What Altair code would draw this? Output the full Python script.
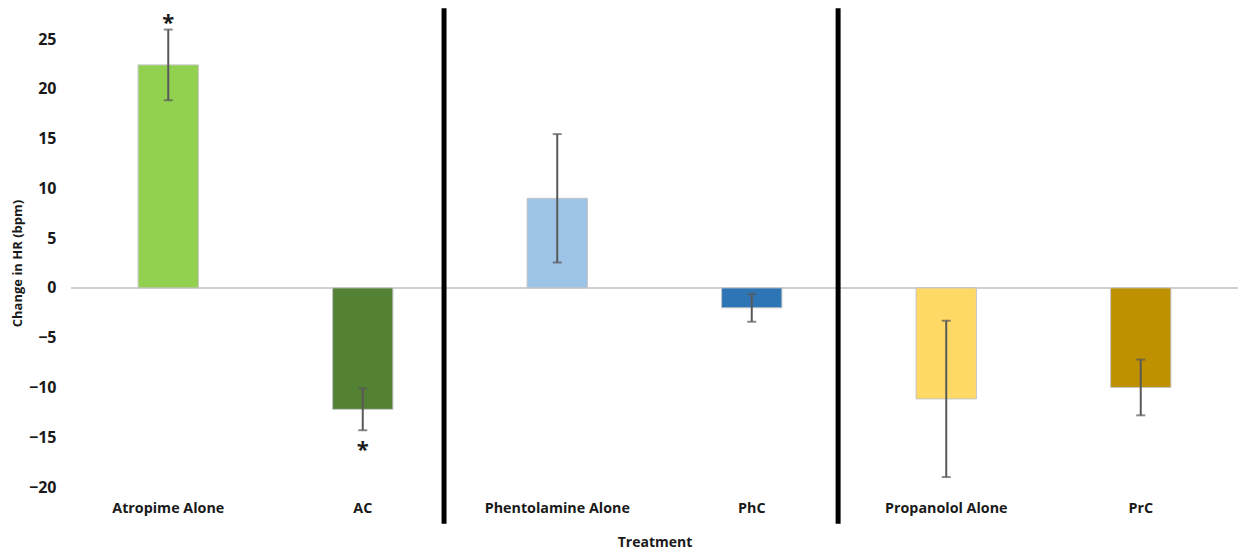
import altair as alt
import pandas as pd

treatments = ["Atropime Alone", "AC", "Phentolamine Alone", "PhC", "Propanolol Alone", "PrC"]
means = [22.4, -12.2, 9.0, -2.0, -11.15, -10.0]
errors = [3.55, 2.1, 6.45, 1.4, 7.85, 2.8]
colors = ["#92D050", "#548235", "#9DC3E6", "#2E75B6", "#FFD966", "#BF9000"]

star_labels = ["Atropime Alone", "AC"]
star_values = [27.1, -15.75]

sep_positions = [1.918, 3.944]   # in category-step units
sep_top = 28.1
sep_bottom = -23.7

df = pd.DataFrame({
    "Treatment": treatments,
    "mean": means,
    "lo": [m - e for m, e in zip(means, errors)],
    "hi": [m + e for m, e in zip(means, errors)],
    "color": colors,
})
stars = pd.DataFrame({"Treatment": star_labels, "y": star_values, "t": ["*", "*"]})
seps = pd.DataFrame({"pos": sep_positions, "top": [sep_top] * 2, "bot": [sep_bottom] * 2})

FONT = "Open Sans"
TXT = "#1a1a1a"
W, H = 1167, 448

xscale = alt.Scale(domain=treatments, paddingInner=0.69, paddingOuter=0.345)
yscale = alt.Scale(domain=[-20, 25], nice=False, zero=False)

x_enc = alt.X("Treatment:N", scale=xscale, sort=treatments,
              axis=alt.Axis(title="Treatment", labelAngle=0, domain=False, ticks=False,
                            labelPadding=14, titlePadding=20, labelFontSize=14.3,
                            labelFontWeight="bold", titleFontSize=14, titleFontWeight="bold",
                            labelColor=TXT, titleColor=TXT, labelFont=FONT, titleFont=FONT))
y_axis = alt.Axis(title="Change in HR (bpm)", values=list(range(-20, 30, 5)), domain=False,
                  ticks=False, grid=False, labelPadding=15, titlePadding=4, labelFontSize=16,
                  labelFontWeight="bold", titleFontSize=13, titleFontWeight="bold",
                  labelColor=TXT, titleColor=TXT, labelFont=FONT, titleFont=FONT)

base = alt.Chart(df)

zero = alt.Chart(pd.DataFrame({"z": [0]})).mark_rule(color="#d0d0d0", strokeWidth=2).encode(
    y=alt.Y("z:Q", scale=yscale, axis=y_axis)
)

bars = base.mark_bar(stroke="#c4c4c4", strokeWidth=1).encode(
    x=x_enc,
    y=alt.Y("mean:Q", scale=yscale, axis=y_axis),
    color=alt.Color("color:N", scale=None),
)

err = base.mark_rule(color="#595959", strokeWidth=2).encode(
    x=alt.X("Treatment:N", scale=xscale, sort=treatments),
    y="lo:Q", y2="hi:Q",
)
cap_lo = base.mark_tick(color="#595959", thickness=2, size=9).encode(
    x=alt.X("Treatment:N", scale=xscale, sort=treatments), y="lo:Q")
cap_hi = base.mark_tick(color="#595959", thickness=2, size=9).encode(
    x=alt.X("Treatment:N", scale=xscale, sort=treatments), y="hi:Q")

star_txt = alt.Chart(stars).mark_text(fontSize=22, fontWeight="bold", font=FONT,
                                      color=TXT, baseline="middle", dy=5).encode(
    x=alt.X("Treatment:N", scale=xscale, sort=treatments),
    y="y:Q", text="t:N",
)

main = alt.layer(zero, bars, err, cap_lo, cap_hi, star_txt)

sep = alt.Chart(seps).mark_rule(color="black", strokeWidth=5).encode(
    x=alt.X("pos:Q", scale=alt.Scale(domain=[0, 6], nice=False, zero=False), axis=None),
    y=alt.Y("top:Q", scale=yscale, axis=y_axis),
    y2="bot:Q",
)

chart = alt.layer(main, sep).resolve_scale(x="independent").properties(
    width=W, height=H,
    autosize=alt.AutoSizeParams(type="none"),
    padding={"top": 31, "left": 63, "right": 0, "bottom": 63},
    background="white",
).configure_view(strokeWidth=0)

chart.save("out.html", embed_options={"renderer": "svg", "actions": False})
